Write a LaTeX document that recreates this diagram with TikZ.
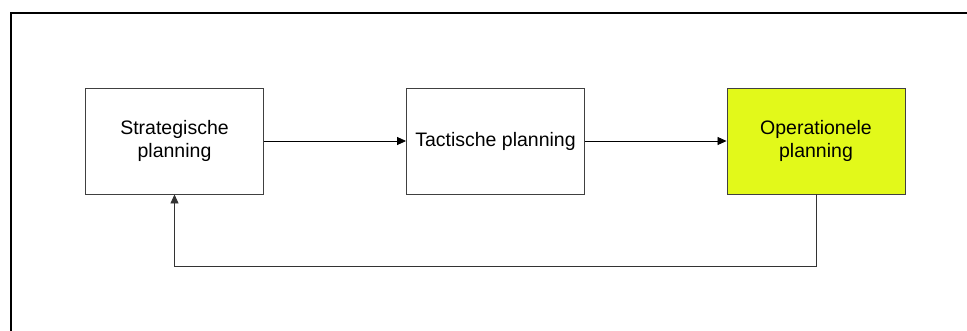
\documentclass[tikz,border=0pt]{standalone}
\usepackage{fontspec}
\setmainfont{Liberation Sans}
\usetikzlibrary{arrows.meta,positioning}

\definecolor{opgeel}{RGB}{226,249,26}

\tikzset{
  blok/.style={draw=black!75, line width=0.9pt, minimum width=178pt, minimum height=106pt,
    align=center, font=\fontsize{19.5}{23.5}\selectfont, inner sep=0pt},
  pijl/.style={-{Triangle[length=9pt,width=8pt]}, line width=0.8pt}
}

\begin{document}
\begin{tikzpicture}[x=1pt,y=-1pt]
                    \useasboundingbox (0,0) rectangle (967,330);
                    % open frame: left and top edge only
                    \draw [line width=2pt] (10.5,331) -- (10.5,12.5) -- (968,12.5);

                    \node (strat) [blok] at (174.5,141) {Strategische\\planning};
                    \node (tact) [blok] at (495.5,141) {Tactische planning};
                    \node (oper) [blok, fill=opgeel] at (816,141) {Operationele\\planning};

                    \path [pijl]
                        (strat) edge (tact)
                        (tact) edge (oper);

                    % terugkoppeling
                    \draw [pijl, draw=black!80] (oper.south) -- ++(0,72) -| (strat.south);
                \end{tikzpicture}
\end{document}
